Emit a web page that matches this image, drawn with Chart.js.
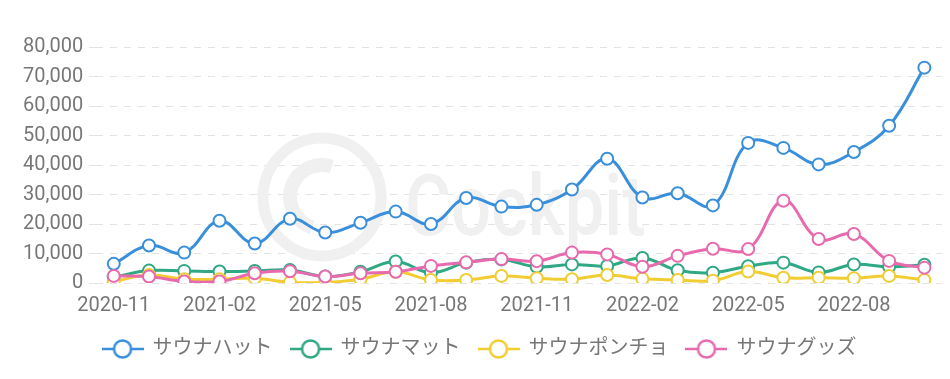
<!DOCTYPE html>
<html lang="ja">

<head>
    <meta charset="UTF-8">
    <title>サウナ関連</title>
    <script src="https://cdn.jsdelivr.net/npm/chart.js"></script>
    <style>
        html, body { margin: 0; padding: 0; background: #fff; }
        #container { width: 950px; height: 379px; }
    </style>
</head>

<body>
    <div id="container">
        <canvas id="mycanvas"></canvas>
    </div>

<script>
    // 月ラベル
    const months = [
        '2020-11', '2020-12', '2021-01', '2021-02', '2021-03', '2021-04',
        '2021-05', '2021-06', '2021-07', '2021-08', '2021-09', '2021-10',
        '2021-11', '2021-12', '2022-01', '2022-02', '2022-03', '2022-04',
        '2022-05', '2022-06', '2022-07', '2022-08', '2022-09', '2022-10'
    ]

    // 各シリーズ（画像から読み取った概算値）
    const hat = [6500, 12700, 10300, 21100, 13400, 21800, 17100, 20400, 24200, 20000, 28800, 25900,
        26500, 31700, 42100, 29000, 30400, 26300, 47500, 45800, 40200, 44400, 53300, 73000]
    const mat = [2000, 4200, 4100, 3900, 4100, 4400, 2200, 3800, 7300, 3500, 6900, 8000,
        5500, 6300, 5800, 8500, 4300, 3500, 5700, 6900, 3600, 6300, 5500, 6200]
    const poncho = [500, 2700, 1300, 1300, 1600, 200, 200, 1300, 3800, 1000, 1000, 2400,
        1600, 1300, 2700, 1400, 1000, 800, 3900, 1800, 1800, 1600, 2400, 1000]
    const goods = [2400, 2200, 500, 500, 3300, 4000, 2200, 3300, 3800, 5800, 7000, 8100,
        7400, 10300, 9700, 5500, 9200, 11600, 11500, 27900, 14900, 16600, 7500, 5200]

    const seriesNames = ['サウナハット', 'サウナマット', 'サウナポンチョ', 'サウナグッズ']
    const colors = ['#3a8fdb', '#2fa883', '#f1cd33', '#e86aae']

    const FONT = 'Roboto, "Noto Sans CJK JP", sans-serif'
    const textColor = '#777'

    // 凡例用マーカー（線＋丸）
    function legendMarker(color) {
        const c = document.createElement('canvas')
        c.width = 42
        c.height = 22
        const g = c.getContext('2d')
        g.strokeStyle = color
        g.lineWidth = 2.5
        g.beginPath()
        g.moveTo(0, 11)
        g.lineTo(42, 11)
        g.stroke()
        g.beginPath()
        g.arc(21, 11, 8.5, 0, Math.PI * 2)
        g.fillStyle = '#fff'
        g.fill()
        g.stroke()
        return c
    }

    // 背景の透かし（うすいロゴと文字）
    const watermark = {
        id: 'watermark',
        beforeDatasetsDraw(chart) {
            const ctx = chart.ctx
            ctx.save()
            ctx.strokeStyle = '#f0f0f0'
            ctx.lineWidth = 11
            ctx.beginPath()
            ctx.arc(322, 197, 59, 0, Math.PI * 2)
            ctx.stroke()
            ctx.lineWidth = 14
            ctx.beginPath()
            ctx.arc(322, 197, 32, Math.PI * 0.6, Math.PI * 1.6)
            ctx.stroke()
            ctx.fillStyle = '#f0f0f0'
            ctx.font = '500 86px Roboto, sans-serif'
            ctx.textBaseline = 'alphabetic'
            ctx.translate(405, 235)
            ctx.scale(0.82, 1)
            ctx.fillText('Cockpit', 0, 0)
            ctx.restore()
        }
    }

    const allData = [hat, mat, poncho, goods]

    new Chart(document.getElementById('mycanvas'), {
        type: 'line',
        data: {
            labels: months,
            datasets: allData.map((d, i) => ({
                label: seriesNames[i],
                data: d,
                borderColor: colors[i],
                backgroundColor: '#fff',
                borderWidth: 3,
                tension: 0.4,
                pointRadius: 6,
                pointBorderWidth: 2,
                pointBackgroundColor: '#fff',
                pointBorderColor: colors[i],
                pointStyle: 'circle'
            })).reverse()
        },
        plugins: [watermark],
        options: {
            responsive: true,
            maintainAspectRatio: false,
            animation: false,
            layout: { padding: { top: 47, right: 8, left: 17, bottom: 10 } },
            plugins: {
                legend: {
                    position: 'bottom',
                    labels: {
                        usePointStyle: true,
                        pointStyleWidth: 40,
                        color: textColor,
                        padding: 18,
                        font: { family: FONT, size: 20 },
                        generateLabels: (chart) => seriesNames.map((n, i) => ({
                            text: n,
                            fontColor: textColor,
                            pointStyle: legendMarker(colors[i]),
                            datasetIndex: 3 - i,
                            lineWidth: 0,
                            strokeStyle: colors[i],
                            fillStyle: '#fff'
                        }))
                    }
                },
                tooltip: { enabled: false }
            },
            scales: {
                x: {
                    offset: true,
                    grid: { display: false },
                    border: { display: false },
                    ticks: {
                        autoSkip: false,
                        maxRotation: 0,
                        color: textColor,
                        font: { family: FONT, size: 20 },
                        callback: function (val, index) {
                            return index % 3 === 0 ? this.getLabelForValue(val) : ''
                        }
                    }
                },
                y: {
                    min: 0,
                    max: 80000,
                    border: { display: false, dash: [7, 7] },
                    grid: { color: '#e3e3e3', tickLength: 7 },
                    ticks: {
                        stepSize: 10000,
                        color: textColor,
                        padding: 6,
                        font: { family: FONT, size: 20 },
                        callback: v => v.toLocaleString('en-US')
                    }
                }
            }
        }
    })
</script>
</body>

</html>
